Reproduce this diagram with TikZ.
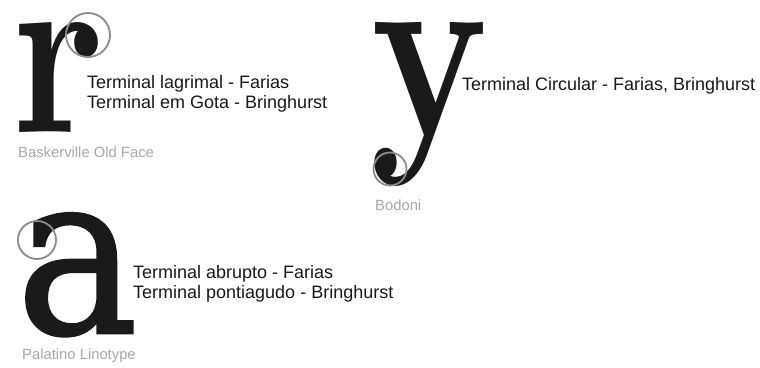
\documentclass[tikz,border=0pt]{standalone}
\usepackage{graphicx}
\usepackage{fontspec}
\setsansfont{Liberation Sans}
\newfontfamily\dvserif[FakeBold=1.2]{DejaVu Serif}
\definecolor{glyph}{HTML}{1A1A1A}
\definecolor{ring}{HTML}{8C8C8C}
\definecolor{caption}{HTML}{A8A8A8}
\begin{document}
\begin{tikzpicture}[x=1pt,y=-1pt,
  label/.style={inner sep=0pt,anchor=base west,font=\sffamily\fontsize{18pt}{21pt}\selectfont,text=black!90},
  fontname/.style={inner sep=0pt,anchor=base west,font=\sffamily\fontsize{14.8pt}{17pt}\selectfont,text=caption},
  specimen/.style={inner sep=0pt,anchor=north west,text=glyph},
  ringmark/.style={draw=ring,line width=1.8pt}
]
\useasboundingbox[fill=white] (0,0) rectangle (760,367);
% r
\node[specimen] (r) at (12,22) {\resizebox*{92pt}{110pt}{\bfseries r}};
\node[ringmark,circle,minimum size=44pt,inner sep=0pt] (rring) at (88,35) {};
\node[label] (r1) at (87,88) {Terminal lagrimal - Farias};
\node[label] (r2) at (87,108) {Terminal em Gota - Bringhurst};
\node[fontname] (rn) at (18,157) {Baskerville Old Face};
% y
\node[specimen] (y) at (370,22) {\resizebox*{118pt}{164pt}{\bfseries y}};
\node[ringmark,circle,minimum size=33pt,inner sep=0pt] (yring) at (390,169) {};
\node[label] (y1) at (462,90) {Terminal Circular - Farias, Bringhurst};
\node[fontname] (yn) at (375,210) {Bodoni};
% a
\node[specimen] (a) at (16,213) {\resizebox*{122pt}{123pt}{\dvserif a}};
\node[ringmark,circle,minimum size=38pt,inner sep=0pt] (aring) at (37,240) {};
\node[label] (a1) at (133,278) {Terminal abrupto - Farias};
\node[label] (a2) at (133,298) {Terminal pontiagudo - Bringhurst};
\node[fontname] (an) at (22,359) {Palatino Linotype};
\end{tikzpicture}
\end{document}
